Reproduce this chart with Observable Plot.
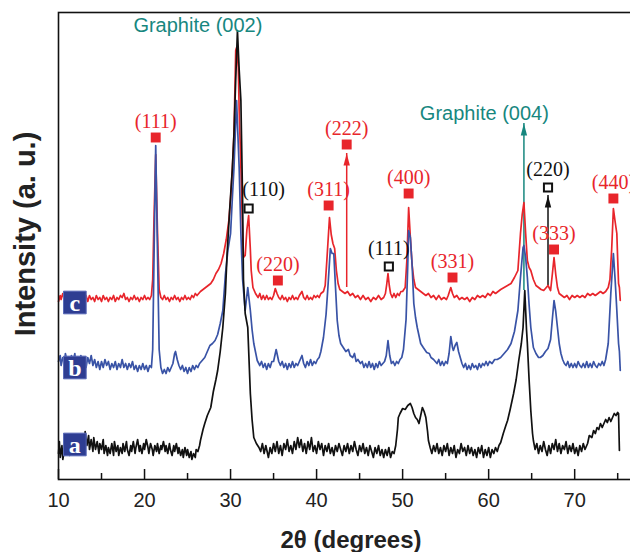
<!DOCTYPE html>
<html><head><meta charset="utf-8">
<script src="https://cdn.jsdelivr.net/npm/d3@7"></script>
<script src="https://cdn.jsdelivr.net/npm/@observablehq/plot@0.6"></script>
<style>html,body{margin:0;padding:0;background:#fff;overflow:hidden}</style>
</head><body><div id="chart"></div>
<script>
// 2θ (degrees), intensity (a.u.) — curve a (black)
const curveA = [[10.0,26],[10.1,38],[10.2,22],[10.4,34],[10.5,20],[10.7,30],[10.8,42],[11.0,28],[11.1,36],[11.3,24],[11.5,40],[11.6,30],[11.8,44],[12.0,30],[12.1,38],[12.3,26],[12.5,36],[12.6,28],[12.8,42],[13.0,32],[13.1,48],[13.3,34],[13.5,44],[13.6,30],[13.8,40],[14.0,28],[14.1,42],[14.3,30],[14.5,38],[14.7,26],[14.8,36],[15.0,30],[15.2,40],[15.3,26],[15.5,34],[15.7,24],[15.8,32],[16.0,26],[16.2,36],[16.4,24],[16.5,38],[16.7,28],[16.9,34],[17.0,24],[17.2,32],[17.4,26],[17.5,36],[17.7,28],[17.9,38],[18.0,30],[18.2,24],[18.4,34],[18.5,28],[18.7,38],[18.9,26],[19.0,32],[19.2,40],[19.4,28],[19.5,34],[19.7,26],[19.9,36],[20.0,30],[20.2,40],[20.4,32],[20.5,26],[20.7,36],[20.9,30],[21.0,24],[21.2,34],[21.4,28],[21.5,36],[21.7,26],[21.9,34],[22.0,30],[22.2,38],[22.4,28],[22.5,34],[22.7,26],[22.9,36],[23.0,30],[23.2,24],[23.4,34],[23.5,28],[23.7,36],[23.9,26],[24.0,32],[24.2,24],[24.4,30],[24.5,22],[24.7,32],[24.9,24],[25.0,30],[25.2,22],[25.4,28],[25.5,20],[25.7,26],[25.9,22],[26.0,30],[26.2,28],[26.4,34],[26.5,39],[26.8,50],[27.0,56],[27.3,64],[27.7,72],[28.0,88],[28.3,100],[28.5,109],[28.8,128],[29.1,152],[29.4,186],[29.6,226],[29.9,270],[30.2,310],[30.4,346],[30.6,400],[30.8,449],[31.0,410],[31.2,379],[31.4,279],[31.5,200],[31.7,166],[32.0,152],[32.3,86],[32.5,60],[32.7,42],[33.0,36],[33.3,32],[33.5,28],[33.7,36],[33.9,26],[34.1,34],[34.2,30],[34.4,22],[34.6,32],[34.8,26],[35.0,36],[35.2,28],[35.4,38],[35.6,26],[35.8,34],[36.0,24],[36.2,36],[36.4,30],[36.6,40],[36.8,28],[37.0,34],[37.2,26],[37.4,38],[37.6,30],[37.8,42],[38.0,32],[38.2,40],[38.4,28],[38.6,36],[38.8,26],[39.0,38],[39.2,30],[39.4,42],[39.6,28],[39.8,34],[40.0,26],[40.2,38],[40.4,30],[40.6,36],[40.8,24],[41.0,34],[41.2,28],[41.4,36],[41.6,26],[41.8,32],[42.0,24],[42.2,34],[42.4,28],[42.6,36],[42.8,30],[43.0,24],[43.2,34],[43.4,28],[43.6,36],[43.8,26],[44.0,34],[44.2,28],[44.4,38],[44.6,30],[44.8,24],[45.0,34],[45.2,28],[45.4,36],[45.6,26],[45.8,32],[46.0,24],[46.2,34],[46.4,28],[46.6,22],[46.8,32],[47.0,26],[47.2,34],[47.4,24],[47.6,30],[47.8,22],[48.0,30],[48.2,24],[48.4,32],[48.6,22],[48.8,28],[49.0,26],[49.2,34],[49.4,50],[49.5,62],[49.7,66],[50.0,71],[50.3,70],[50.6,74],[50.9,76],[51.1,72],[51.3,66],[51.5,62],[51.7,60],[51.9,56],[52.1,64],[52.3,72],[52.5,68],[52.7,62],[52.9,48],[53.0,39],[53.2,32],[53.4,26],[53.6,34],[53.8,28],[54.0,36],[54.2,26],[54.4,32],[54.6,24],[54.8,34],[55.0,28],[55.2,36],[55.4,24],[55.6,32],[55.8,26],[56.0,34],[56.2,22],[56.4,30],[56.6,26],[56.8,36],[57.0,28],[57.2,32],[57.4,24],[57.6,34],[57.8,26],[58.0,32],[58.2,24],[58.4,30],[58.6,22],[58.8,32],[59.0,26],[59.2,34],[59.4,22],[59.6,30],[59.8,24],[60.0,32],[60.2,22],[60.4,30],[60.6,26],[60.8,32],[61.0,28],[61.2,34],[61.4,37],[61.7,46],[62.0,54],[62.2,59],[62.5,70],[62.9,86],[63.2,100],[63.5,119],[63.8,136],[64.0,152],[64.2,189],[64.4,150],[64.5,136],[64.7,100],[64.9,69],[65.1,46],[65.2,39],[65.4,30],[65.6,36],[65.8,26],[66.0,34],[66.2,28],[66.4,38],[66.6,30],[66.8,24],[67.0,34],[67.2,26],[67.4,36],[67.6,30],[67.8,40],[68.0,28],[68.2,36],[68.4,26],[68.6,34],[68.8,30],[69.0,38],[69.2,26],[69.4,34],[69.6,28],[69.8,36],[70.0,26],[70.2,32],[70.4,24],[70.6,34],[70.8,28],[71.0,36],[71.2,30],[71.5,36],[71.7,44],[72.0,42],[72.2,49],[72.4,46],[72.6,52],[72.8,50],[73.0,56],[73.2,52],[73.4,56],[73.6,60],[73.8,57],[74.0,62],[74.2,58],[74.4,62],[74.6,66],[74.8,64],[75.0,67],[75.1,66],[75.2,29]];

// curve b (blue)
const curveB = [[10.0,118],[10.2,124],[10.3,114],[10.5,122],[10.7,116],[10.8,126],[11.0,118],[11.2,122],[11.4,114],[11.5,124],[11.7,118],[11.9,126],[12.0,116],[12.2,122],[12.4,114],[12.6,124],[12.8,116],[13.0,120],[13.2,112],[13.4,122],[13.6,116],[13.8,124],[14.0,114],[14.2,120],[14.4,112],[14.6,118],[14.8,110],[15.0,118],[15.2,112],[15.4,120],[15.6,114],[15.8,118],[16.0,110],[16.2,116],[16.4,112],[16.6,118],[16.8,110],[17.0,116],[17.2,112],[17.4,120],[17.6,112],[17.8,116],[18.0,110],[18.2,116],[18.4,112],[18.6,118],[18.8,110],[19.0,114],[19.2,108],[19.4,114],[19.6,110],[19.8,116],[20.0,110],[20.2,114],[20.4,108],[20.6,114],[20.8,112],[20.95,130],[21.1,220],[21.3,334],[21.5,230],[21.7,130],[21.9,112],[22.1,106],[22.3,110],[22.5,106],[22.7,112],[22.9,108],[23.1,112],[23.3,116],[23.5,126],[23.6,128],[23.8,120],[24.0,114],[24.2,110],[24.4,114],[24.6,108],[24.8,112],[25.0,106],[25.2,112],[25.4,108],[25.6,114],[25.8,110],[26.0,114],[26.2,112],[26.4,116],[26.6,118],[26.8,120],[27.0,122],[27.3,128],[27.6,134],[27.9,136],[28.2,139],[28.5,145],[28.8,156],[29.1,169],[29.4,205],[29.7,230],[30.0,246],[30.2,280],[30.4,312],[30.7,379],[31.0,312],[31.2,246],[31.4,200],[31.7,169],[32.0,192],[32.3,169],[32.5,150],[32.7,136],[33.1,119],[33.4,114],[33.6,118],[33.8,112],[34.0,116],[34.2,110],[34.4,116],[34.6,112],[34.8,118],[35.0,118],[35.3,130],[35.6,118],[35.8,114],[36.0,118],[36.2,112],[36.4,116],[36.6,110],[36.8,116],[37.0,112],[37.2,118],[37.4,112],[37.6,116],[37.8,114],[38.0,118],[38.3,124],[38.5,116],[38.7,112],[38.9,118],[39.1,114],[39.3,120],[39.5,114],[39.7,118],[39.9,116],[40.1,120],[40.3,122],[40.5,128],[40.8,142],[41.1,165],[41.3,190],[41.6,231],[41.8,226],[42.0,226],[42.2,192],[42.4,159],[42.6,144],[42.8,136],[43.1,132],[43.4,128],[43.7,130],[43.9,124],[44.2,122],[44.4,126],[44.6,118],[44.8,120],[45.1,116],[45.3,118],[45.5,112],[45.7,116],[45.9,112],[46.1,118],[46.3,112],[46.5,116],[46.7,110],[46.9,116],[47.1,112],[47.3,118],[47.5,114],[47.7,116],[47.9,118],[48.1,124],[48.3,139],[48.5,124],[48.7,116],[48.9,118],[49.1,114],[49.3,118],[49.5,116],[49.7,120],[49.9,122],[50.1,130],[50.4,160],[50.6,215],[50.7,249],[50.9,242],[51.1,215],[51.3,176],[51.5,162],[51.7,152],[51.9,144],[52.1,136],[52.4,132],[52.8,127],[53.1,126],[53.3,122],[53.6,120],[53.8,118],[54.0,116],[54.2,120],[54.4,114],[54.6,118],[54.8,114],[55.0,118],[55.2,116],[55.4,126],[55.6,143],[55.8,132],[55.9,129],[56.1,134],[56.3,137],[56.5,128],[56.7,122],[56.9,116],[57.1,112],[57.3,116],[57.5,110],[57.7,114],[57.9,110],[58.1,116],[58.3,112],[58.5,114],[58.7,110],[58.9,116],[59.1,112],[59.3,116],[59.5,114],[59.7,118],[59.9,114],[60.1,118],[60.4,116],[60.7,120],[61.0,120],[61.4,122],[61.8,126],[62.2,130],[62.6,136],[63.0,148],[63.4,169],[63.7,202],[64.0,232],[64.1,234],[64.3,222],[64.5,202],[64.7,175],[64.9,152],[65.2,132],[65.5,126],[65.8,122],[66.0,122],[66.3,124],[66.6,128],[66.9,131],[67.2,140],[67.4,160],[67.6,179],[67.8,168],[68.0,152],[68.2,136],[68.4,126],[68.6,120],[68.8,116],[69.0,114],[69.2,118],[69.4,112],[69.6,116],[69.8,112],[70.0,116],[70.2,112],[70.4,118],[70.6,114],[70.8,112],[71.0,116],[71.2,112],[71.4,118],[71.6,112],[71.8,116],[72.0,112],[72.2,118],[72.4,114],[72.6,112],[72.8,116],[73.0,114],[73.2,118],[73.4,114],[73.6,120],[73.9,136],[74.2,186],[74.5,226],[74.7,200],[74.9,169],[75.1,136],[75.2,128],[75.3,109]];

// curve c (red)
const curveC = [[10.0,178],[10.2,184],[10.3,180],[10.5,186],[10.7,180],[10.9,184],[11.0,178],[11.2,186],[11.4,182],[11.6,186],[11.8,180],[12.0,184],[12.2,180],[12.4,186],[12.6,182],[12.8,184],[13.0,180],[13.2,184],[13.4,178],[13.6,184],[13.8,180],[14.0,182],[14.2,178],[14.4,184],[14.6,180],[14.8,182],[15.0,178],[15.2,184],[15.4,180],[15.6,182],[15.8,178],[16.0,182],[16.2,180],[16.4,184],[16.6,178],[16.8,182],[17.0,180],[17.2,184],[17.4,182],[17.6,186],[17.8,180],[18.0,182],[18.2,178],[18.4,182],[18.6,180],[18.8,184],[19.0,180],[19.2,182],[19.4,178],[19.6,182],[19.8,180],[20.0,184],[20.2,180],[20.4,182],[20.6,180],[20.8,184],[20.95,200],[21.1,260],[21.3,325],[21.5,250],[21.7,190],[21.9,182],[22.1,180],[22.3,184],[22.5,180],[22.7,182],[22.9,178],[23.1,182],[23.3,180],[23.5,184],[23.7,180],[23.9,182],[24.1,178],[24.3,182],[24.5,180],[24.7,184],[24.9,180],[25.1,182],[25.3,180],[25.5,184],[25.7,182],[25.9,186],[26.1,184],[26.3,186],[26.5,188],[26.8,190],[27.1,192],[27.4,194],[27.7,196],[28.0,200],[28.3,206],[28.6,210],[28.9,216],[29.2,226],[29.5,240],[29.8,259],[30.0,280],[30.2,309],[30.4,346],[30.6,429],[30.7,432],[30.9,412],[31.0,370],[31.2,312],[31.4,246],[31.5,222],[31.7,224],[31.9,250],[32.1,264],[32.3,230],[32.4,209],[32.6,192],[32.9,186],[33.2,182],[33.4,186],[33.6,180],[33.8,184],[34.0,180],[34.2,184],[34.4,180],[34.6,182],[34.8,180],[35.0,184],[35.2,191],[35.4,186],[35.6,182],[35.8,180],[36.0,184],[36.2,180],[36.4,182],[36.6,178],[36.8,182],[37.0,180],[37.2,184],[37.4,180],[37.6,182],[37.8,180],[38.0,184],[38.3,188],[38.5,182],[38.7,180],[38.9,184],[39.1,180],[39.3,182],[39.5,180],[39.7,184],[39.9,182],[40.1,184],[40.3,182],[40.5,186],[40.8,188],[41.0,194],[41.2,220],[41.5,262],[41.7,245],[41.9,236],[42.1,231],[42.3,209],[42.5,196],[42.7,190],[43.0,188],[43.3,186],[43.6,188],[43.9,184],[44.2,186],[44.5,182],[44.8,184],[45.1,180],[45.4,184],[45.7,180],[46.0,182],[46.3,178],[46.6,182],[46.9,180],[47.2,184],[47.5,180],[47.8,182],[48.0,186],[48.15,195],[48.3,206],[48.45,194],[48.6,186],[48.8,182],[49.0,186],[49.2,182],[49.4,186],[49.6,184],[49.8,188],[50.0,188],[50.3,192],[50.5,220],[50.7,272],[50.9,242],[51.1,215],[51.3,200],[51.5,192],[51.8,190],[52.1,188],[52.4,186],[52.7,184],[53.0,186],[53.3,182],[53.6,184],[53.9,180],[54.2,184],[54.5,180],[54.8,182],[55.1,180],[55.3,184],[55.6,192],[55.8,186],[56.0,182],[56.3,184],[56.6,180],[56.9,182],[57.2,180],[57.5,182],[57.8,178],[58.1,182],[58.4,180],[58.7,184],[59.0,182],[59.3,184],[59.6,182],[59.9,186],[60.2,184],[60.5,188],[60.8,186],[61.1,188],[61.4,190],[61.8,192],[62.2,194],[62.6,196],[63.0,202],[63.4,209],[63.7,246],[63.9,265],[64.1,277],[64.3,246],[64.5,219],[64.7,212],[64.9,209],[65.2,200],[65.5,194],[65.8,192],[66.1,190],[66.4,189],[66.7,192],[66.9,194],[67.2,189],[67.4,205],[67.6,222],[67.8,205],[68.0,192],[68.2,186],[68.5,184],[68.8,182],[69.1,184],[69.4,180],[69.7,184],[70.0,182],[70.3,184],[70.6,182],[70.9,184],[71.2,182],[71.5,186],[71.8,184],[72.1,186],[72.4,184],[72.7,186],[73.0,188],[73.3,186],[73.6,188],[73.9,192],[74.1,200],[74.3,230],[74.5,271],[74.7,258],[74.9,246],[75.0,220],[75.1,196],[75.2,192],[75.3,179]];

// filled red squares (spinel reflections)
const spinelX = [21.3, 35.5, 43.5, 41.4, 50.7, 55.8, 67.6, 74.5];
const spinelY = [342, 199, 335, 274, 286, 202, 230, 281];
const spinelLabel = ["(111)", "(220)", "(222)", "(311)", "(400)", "(331)", "(333)", "(440)"];

// open black squares
const openX = [32.1, 48.4, 66.9];
const openY = [271, 213, 292];
const openLabel = ["(110)", "(111)", "(220)"];

// arrows
const arrowX = [43.5, 66.9, 64.1];
const arrowFrom = [192, 194, 189];
const arrowTo = [326, 284, 356];
const arrowColor = ["#e8252b", "#111111", "#17877f"];

// graphite annotations
const graphiteX = [26.2, 59.5];
const graphiteY = [454, 366];
const graphiteLabel = ["Graphite (002)", "Graphite (004)"];

// curve tags
const tagX = [11.9, 11.9, 11.9];
const tagY = [35, 112, 177];
const tagLabel = ["a", "b", "c"];

const majorTicks = [10, 20, 30, 40, 50, 60, 70];
const minorTicks = [15, 25, 35, 45, 55, 65, 75];

const RED = "#e8252b", BLUE = "#3953a6", TEAL = "#17877f";

const spinel = spinelX.map((x, i) => ({x, y: spinelY[i], label: spinelLabel[i]}));
const opens = openX.map((x, i) => ({x, y: openY[i], label: openLabel[i]}));
const arrows = arrowX.map((x, i) => ({x, y1: arrowFrom[i], y2: arrowTo[i], color: arrowColor[i]}));
const graphite = graphiteX.map((x, i) => ({x, y: graphiteY[i], label: graphiteLabel[i]}));
const tags = tagX.map((x, i) => ({x, y: tagY[i], label: tagLabel[i]}));

const arrowHead = {draw(ctx) { ctx.moveTo(0, 0); ctx.lineTo(3.2, 12); ctx.lineTo(-3.2, 12); ctx.closePath(); }};

const chart = Plot.plot({
  width: 630, height: 552,
  marginLeft: 58, marginRight: -13, marginTop: 12, marginBottom: 73,
  style: {fontFamily: "'Liberation Sans', Arial, sans-serif", background: "#fff", color: "#222", overflow: "hidden"},
  x: {domain: [10, 78]},
  y: {domain: [0, 467], axis: null},
  marks: [
    Plot.ruleX(arrows, {x: "x", y1: "y1", y2: "y2", stroke: "color", strokeWidth: 1.5}),
    Plot.dot(arrows, {x: "x", y: "y2", symbol: arrowHead, fill: "color", stroke: null, r: 4}),
    Plot.line(curveC, {stroke: RED, strokeWidth: 1.7}),
    Plot.line(curveB, {stroke: BLUE, strokeWidth: 1.7}),
    Plot.line(curveA, {stroke: "#111", strokeWidth: 1.7}),
    Plot.dot(spinel, {x: "x", y: "y", symbol: "square", fill: RED, r: 5.6}),
    Plot.text(spinel, {x: "x", y: "y", text: "label", dy: -16, fill: RED, fontSize: 20, fontFamily: "'Liberation Serif', 'Times New Roman', serif"}),
    Plot.dot(opens, {x: "x", y: "y", symbol: "square", fill: "#fff", stroke: "#111", strokeWidth: 2, r: 4.6}),
    Plot.text(opens.filter(d => d.label === "(110)"), {x: "x", y: "y", text: "label", dy: -19, dx: 15, fill: "#111", fontSize: 20, fontFamily: "'Liberation Serif', 'Times New Roman', serif"}),
    Plot.text(opens.filter(d => d.label !== "(110)"), {x: "x", y: "y", text: "label", dy: -18, fill: "#111", fontSize: 20, fontFamily: "'Liberation Serif', 'Times New Roman', serif"}),
    Plot.text(graphite, {x: "x", y: "y", text: "label", fill: TEAL, fontSize: 20, fontFamily: "'Liberation Sans', Arial, sans-serif"}),
    Plot.dot(tags, {x: "x", y: "y", symbol: "square", fill: "#2e3d92", stroke: "#5a6bb8", strokeWidth: 1, r: 12.8}),
    Plot.text(tags, {x: "x", y: "y", text: "label", fill: "#fff", fontSize: 24, fontWeight: "bold", fontFamily: "'Liberation Serif', 'Times New Roman', serif", dy: 1}),
    Plot.ruleX(majorTicks, {stroke: "#111", strokeWidth: 1.5, insetTop: 457}),
    Plot.ruleX(minorTicks, {stroke: "#111", strokeWidth: 1.5, insetTop: 461}),
    Plot.frame({stroke: "#111", strokeWidth: 1.6}),
    Plot.axisX(majorTicks, {tickSize: 0, tickPadding: 13, fontSize: 20, label: null, fill: "#222"}),
    Plot.text(["2θ (degrees)"], {frameAnchor: "bottom", dy: 61, lineAnchor: "middle", textAnchor: "middle", fontSize: 24, fontWeight: "bold", fill: "#222"}),
    Plot.text(["Intensity (a. u.)"], {frameAnchor: "left", dx: -33, dy: -12, rotate: -90, textAnchor: "middle", lineAnchor: "middle", fontSize: 29, fontWeight: "bold", fill: "#222"})
  ]
});
document.getElementById("chart").appendChild(chart);
</script>
</body></html>
